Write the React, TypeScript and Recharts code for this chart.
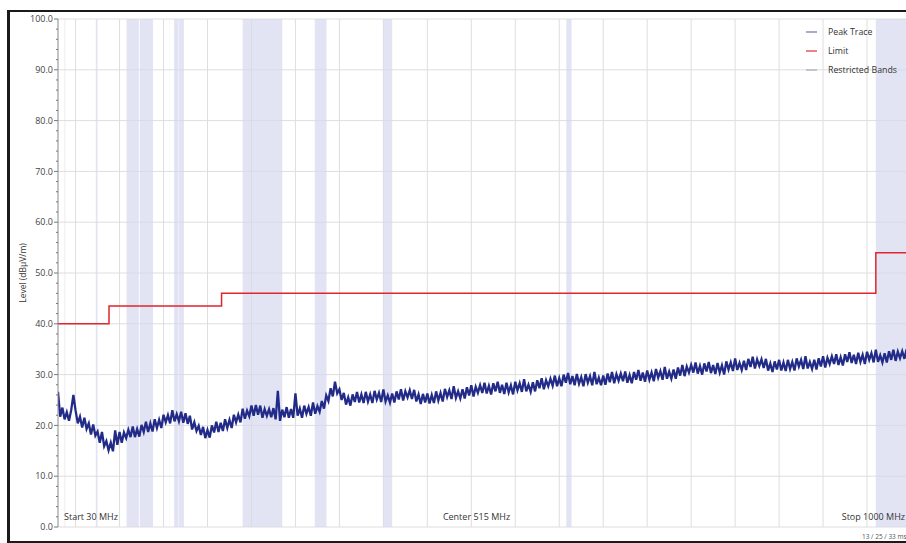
import {
  ComposedChart,
  Line,
  XAxis,
  YAxis,
  CartesianGrid,
  ReferenceArea,
  ReferenceLine,
  Legend,
} from "recharts";

const FONT = '"Open Sans", "Noto Sans", sans-serif';

// sweep starts at 30 MHz, one reading every 2.5 MHz (20 MHz per row)
const TRACE_START_MHZ = 30;
const TRACE_STEP_MHZ = 2.5;
const PEAK_TRACE = [
  26.6, 21.7, 23.5, 21.2, 22.6, 20.9, 23.0, 26.0,
  22.9, 20.4, 21.7, 19.6, 21.5, 19.3, 20.4, 18.2,
  20.2, 18.0, 18.8, 16.6, 18.7, 15.9, 16.9, 15.1,
  16.6, 14.9, 19.0, 16.2, 18.7, 16.6, 18.6, 17.5,
  19.1, 17.7, 19.8, 17.7, 19.3, 17.8, 20.1, 18.7,
  20.7, 18.7, 20.4, 18.8, 21.2, 19.5, 21.1, 19.5,
  22.1, 20.6, 22.0, 20.4, 23.0, 20.8, 22.2, 20.8,
  22.7, 20.5, 22.4, 20.3, 21.9, 19.2, 20.6, 18.9,
  19.9, 18.1, 19.7, 17.5, 19.1, 17.6, 20.0, 18.6,
  20.7, 18.7, 20.5, 18.9, 21.2, 19.5, 21.1, 19.5,
  22.1, 20.6, 22.1, 20.6, 23.3, 21.3, 22.9, 21.8,
  23.9, 21.9, 24.0, 22.1, 23.9, 21.5, 23.2, 21.9,
  23.2, 21.6, 23.4, 21.2, 26.8, 20.9, 23.1, 21.6,
  23.6, 21.5, 23.2, 21.5, 26.3, 21.9, 23.3, 21.5,
  23.9, 22.3, 23.6, 21.9, 24.5, 22.3, 23.8, 22.7,
  24.8, 23.3, 25.9, 24.8, 27.3, 25.7, 28.6, 26.3,
  27.1, 25.0, 26.4, 24.1, 25.5, 23.9, 26.1, 24.6,
  26.6, 24.5, 26.1, 24.4, 26.6, 24.7, 26.1, 24.4,
  26.8, 25.1, 26.4, 24.6, 27.1, 24.7, 25.9, 24.5,
  26.3, 24.5, 26.7, 25.1, 27.1, 24.9, 26.7, 25.5,
  26.9, 25.2, 27.0, 24.7, 26.1, 24.2, 26.2, 24.5,
  26.3, 24.3, 26.0, 24.4, 26.7, 24.9, 26.4, 24.7,
  27.2, 25.6, 26.9, 25.2, 27.7, 25.4, 26.7, 25.3,
  27.1, 25.3, 27.5, 25.9, 27.9, 25.7, 27.6, 26.4,
  27.9, 26.4, 28.4, 26.3, 27.8, 26.1, 28.3, 26.7,
  28.6, 26.4, 28.0, 26.2, 28.4, 26.5, 27.9, 26.1,
  28.6, 26.9, 28.3, 26.6, 29.1, 26.7, 28.0, 26.6,
  28.5, 26.7, 28.9, 27.3, 29.3, 27.1, 28.9, 27.7,
  29.2, 27.8, 29.8, 27.7, 29.3, 27.7, 30.0, 28.4,
  30.3, 28.1, 29.7, 27.9, 30.1, 28.2, 29.5, 27.7,
  30.1, 28.4, 29.7, 27.9, 30.5, 28.1, 29.4, 27.9,
  29.8, 28.0, 30.2, 28.5, 30.5, 28.3, 30.1, 28.8,
  30.2, 28.7, 30.6, 28.4, 29.9, 28.3, 30.5, 29.0,
  30.9, 28.8, 30.4, 28.6, 30.8, 29.0, 30.4, 28.7,
  31.1, 29.4, 30.7, 29.0, 31.5, 29.2, 30.6, 29.2,
  31.0, 29.2, 31.4, 29.8, 31.9, 29.7, 31.6, 30.4,
  31.9, 30.4, 32.4, 30.2, 31.7, 30.0, 32.2, 30.6,
  32.5, 30.3, 31.9, 30.1, 32.3, 30.4, 31.8, 30.0,
  32.6, 31.0, 32.4, 30.7, 33.2, 30.9, 32.3, 30.9,
  32.7, 30.9, 33.1, 31.5, 33.5, 31.2, 33.0, 31.7,
  33.0, 31.3, 33.1, 30.8, 32.2, 30.5, 32.6, 31.0,
  32.9, 30.8, 32.4, 30.7, 32.9, 31.1, 32.5, 30.8,
  33.2, 31.6, 32.9, 31.1, 33.6, 31.2, 32.5, 31.1,
  32.9, 31.0, 33.2, 31.6, 33.6, 31.4, 33.3, 32.1,
  33.6, 32.1, 34.0, 31.9, 33.4, 31.8, 34.0, 32.5,
  34.4, 32.3, 33.9, 32.1, 34.3, 32.5, 33.9, 32.1,
  34.5, 32.9, 34.2, 32.4, 34.9, 32.5, 33.8, 32.4,
  34.2, 32.4, 34.6, 32.9, 34.9, 32.7, 34.5, 33.2,
  34.6, 33.1, 35.0, 32.8, 34.3,
];

const LIMIT_FREQ = [30, 88, 216, 960, 1000];
const LIMIT_LEVEL = [40, 43.5, 46, 54, 54];

// restricted bands, MHz
const BAND_START = [37.5, 73, 74.8, 108, 123, 149.9, 156.52475, 156.7, 162.0125, 167.72, 240, 322, 399.9, 608, 960];
const BAND_STOP = [38.25, 74.6, 75.2, 121.94, 138, 150.05, 156.52525, 156.9, 167.17, 173.2, 285, 335.4, 410, 614, 1240];

const SPAN_FREQ = [30, 515, 1000];
const SPAN_TEXT = ["Start 30 MHz", "Center 515 MHz", "Stop 1000 MHz"];

const LEGEND_NAMES = ["Peak Trace", "Limit", "Restricted Bands"];
const LEGEND_COLORS = ["#6f74a6", "#e0303a", "#a3a6b8"];

const X_TICKS = Array.from({ length: 98 }, (_, i) => 30 + i * 10);
const X_GRID = Array.from({ length: 20 }, (_, i) => 50 + i * 50);
const Y_TICKS = Array.from({ length: 51 }, (_, i) => i * 2);
const Y_GRID = Array.from({ length: 11 }, (_, i) => i * 10);

const traceData = PEAK_TRACE.map((v, i) => ({ f: TRACE_START_MHZ + i * TRACE_STEP_MHZ, v }));
const limitData = LIMIT_FREQ.map((f, i) => ({ f, v: LIMIT_LEVEL[i] }));

const SPAN_LABEL_STYLE = [
  { dx: 6, anchor: "start" },
  { dx: -8, anchor: "middle" },
  { dx: -6, anchor: "end" },
];

const BottomTick = (props: any) => {
  const { x, y, payload } = props;
  const len = payload.value % 50 === 0 ? 4 : 2;
  return <line x1={x} x2={x} y1={y} y2={y - len} stroke="#777" />;
};

const TopTick = (props: any) => {
  const { x, y, payload } = props;
  const len = payload.value % 50 === 0 ? 4 : 2;
  return <line x1={x} x2={x} y1={y} y2={y + len} stroke="#777" />;
};

const LeftTick = (props: any) => {
  const { x, y, payload } = props;
  const major = payload.value % 10 === 0;
  return (
    <g>
      <line x1={x - (major ? 4 : 2)} x2={x} y1={y} y2={y} stroke="#777" />
      {major && (
        <text x={x - 5} y={y} dy="0.35em" textAnchor="end" fontSize={9} fill="#444" fontFamily={FONT}>
          {payload.value.toFixed(1)}
        </text>
      )}
    </g>
  );
};

const YTitle = (props: any) => {
  const { viewBox } = props;
  const cx = viewBox.x + 22;
  const cy = viewBox.y + viewBox.height / 2;
  return (
    <text
      x={cx}
      y={cy}
      textAnchor="middle"
      dominantBaseline="central"
      transform={`rotate(-90, ${cx}, ${cy})`}
      fontSize={8.5}
      fill="#333"
      fontFamily={FONT}
    >
      Level (dBµV/m)
    </text>
  );
};

const LegendBox = () => (
  <div style={{ fontFamily: FONT, fontSize: 8.8, color: "#333" }}>
    {LEGEND_NAMES.map((name, i) => (
      <div key={name} style={{ display: "flex", alignItems: "center", height: 19 }}>
        <svg width={22} height={10}>
          <line x1={0} x2={11} y1={5} y2={5} stroke={LEGEND_COLORS[i]} strokeWidth={1.2} />
        </svg>
        <span>{name}</span>
      </div>
    ))}
  </div>
);

export default function App() {
  return (
    <div
      style={{
        position: "fixed",
        left: 0,
        top: 0,
        width: 906,
        height: 543,
        overflow: "hidden",
        background: "#fff",
      }}
    >
      <div
        style={{
          position: "absolute",
          left: 7,
          top: 10,
          width: 960,
          height: 533,
          boxSizing: "border-box",
          borderTop: "2px solid #1a1a1a",
          borderLeft: "3px solid #1a1a1a",
          borderBottom: "2px solid #1a1a1a",
        }}
      />
      <ComposedChart
        width={930}
        height={543}
        margin={{ top: 19, right: 19, bottom: 16, left: 0 }}
        style={{ position: "absolute", left: 0, top: 0 }}
      >
        <CartesianGrid stroke="#dedede" verticalValues={X_GRID} horizontalValues={Y_GRID} />
        <XAxis
          type="number"
          dataKey="f"
          domain={[30, 1000]}
          ticks={X_TICKS}
          interval={0}
          height={0}
          tickSize={0}
          tickMargin={0}
          tickLine={false}
          tick={BottomTick}
          stroke="#8a8a8a"
          allowDataOverflow
        />
        <XAxis
          xAxisId="top"
          orientation="top"
          type="number"
          dataKey="f"
          domain={[30, 1000]}
          ticks={X_TICKS}
          interval={0}
          height={0}
          tickSize={0}
          tickMargin={0}
          tickLine={false}
          tick={TopTick}
          stroke="#8a8a8a"
          allowDataOverflow
        />
        <YAxis
          type="number"
          domain={[0, 100]}
          ticks={Y_TICKS}
          interval={0}
          width={58}
          tickSize={0}
          tickMargin={0}
          tickLine={false}
          tick={LeftTick}
          stroke="#8a8a8a"
          label={YTitle}
          allowDataOverflow
        />
        {BAND_START.map((start, i) => (
          <ReferenceArea
            key={start}
            x1={start}
            x2={BAND_STOP[i]}
            y1={0}
            y2={100}
            fill="#d6d9ef"
            fillOpacity={0.7}
            stroke="none"
            ifOverflow="hidden"
          />
        ))}
        {SPAN_FREQ.map((f, i) => (
          <ReferenceLine
            key={f}
            x={f}
            stroke="none"
            label={(p: any) => (
              <text
                x={p.viewBox.x + SPAN_LABEL_STYLE[i].dx}
                y={p.viewBox.y + p.viewBox.height - 7}
                textAnchor={SPAN_LABEL_STYLE[i].anchor as any}
                fontSize={9}
                fill="#333"
                fontFamily={FONT}
              >
                {SPAN_TEXT[i]}
              </text>
            )}
          />
        ))}
        <Line
          data={limitData}
          dataKey="v"
          type="stepAfter"
          stroke="#e0262c"
          strokeWidth={1.5}
          dot={false}
          isAnimationActive={false}
        />
        <Line
          data={traceData}
          dataKey="v"
          type="linear"
          stroke="#222b88"
          strokeWidth={2.3}
          dot={false}
          isAnimationActive={false}
        />
        <Legend
          layout="vertical"
          align="center"
          verticalAlign="middle"
          content={LegendBox}
          wrapperStyle={{ left: 806, top: 22, width: 110 }}
        />
      </ComposedChart>
      <div
        style={{
          position: "absolute",
          left: 862,
          top: 532,
          fontFamily: FONT,
          fontSize: 6.5,
          color: "#555",
          whiteSpace: "nowrap",
        }}
      >
        13 / 25 / 33 ms
      </div>
    </div>
  );
}
